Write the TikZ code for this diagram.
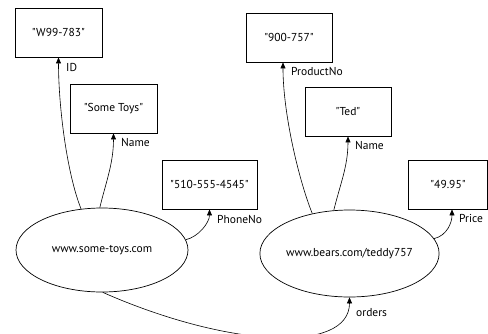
\documentclass[tikz,border=0pt]{standalone}
\usepackage{fontspec}
\newfontfamily\ptfont{PT Sans}[Ligatures=ResetAll]
\usetikzlibrary{arrows.meta,shapes.geometric}
\tikzset{
  valbox/.style={draw, line width=0.9pt, minimum height=49pt, inner sep=0pt, font=\ptfont\fontsize{11.5}{13}\selectfont},
  res/.style={draw, ellipse, line width=0.7pt, inner sep=0pt, font=\ptfont\fontsize{11.5}{13}\selectfont},
  lbl/.style={anchor=west, inner sep=0pt, font=\ptfont\fontsize{11.5}{13}\selectfont},
  arr/.style={line width=0.6pt, -{Triangle[width=5pt,length=6pt]}}
}
\begin{document}
\begin{tikzpicture}[x=1pt,y=-1pt]
\useasboundingbox[fill=white] (0,0) rectangle (488,333);
% value boxes
\node[valbox, minimum width=87pt] (b1) at (58.5,32.5) {"W99-783"};
\node[valbox, minimum width=87pt] (b2) at (113.5,108.5) {"Some Toys"};
\node[valbox, minimum width=95pt] (b3) at (209.5,184.5) {"510-555-4545"};
\node[valbox, minimum width=86pt] (b4) at (289,37.5) {"900-757"};
\node[valbox, minimum width=86pt] (b5) at (348,111.5) {"Ted"};
\node[valbox, minimum width=79pt] (b6) at (448,184.5) {"49.95"};
% resources
\node[res, minimum width=172pt, minimum height=84pt] (e1) at (102,250) {www.some-toys.com};
\node[res, minimum width=165pt, minimum height=87pt] (e2) at (349.5,253.5) {www.bears.com/teddy757};
% arcs
\draw[arr] (e1.117) .. controls +(-14,-35) and +(0,50) .. (b1.south);
\draw[arr] (e1.93) .. controls +(6,-25) and +(0,30) .. (b2.south);
\draw[arr] (e1.7) .. controls +(13,-3) and +(0,13) .. (b3.south);
\draw[arr] (e2.133) .. controls +(-14,-35) and +(0,50) .. ([xshift=-6pt]b4.south);
\draw[arr] (e2.110) .. controls +(6,-25) and +(0,30) .. (b5.south);
\draw[arr] (e2.10) .. controls +(13,-3) and +(0,13) .. ([xshift=4pt]b6.south);
\draw[arr] (e1.271) .. controls +(127,56) and +(0,56) .. (e2.270);
% labels
\node[lbl] (l1) at (66,67.5) {ID};
\node[lbl] (l2) at (121,142) {Name};
\node[lbl] (l3) at (217,219) {PhoneNo};
\node[lbl] (l4) at (291,71) {ProductNo};
\node[lbl] (l5) at (355,145) {Name};
\node[lbl] (l6) at (459,218) {Price};
\node[lbl] (l7) at (356,313) {orders};
\end{tikzpicture}
\end{document}
